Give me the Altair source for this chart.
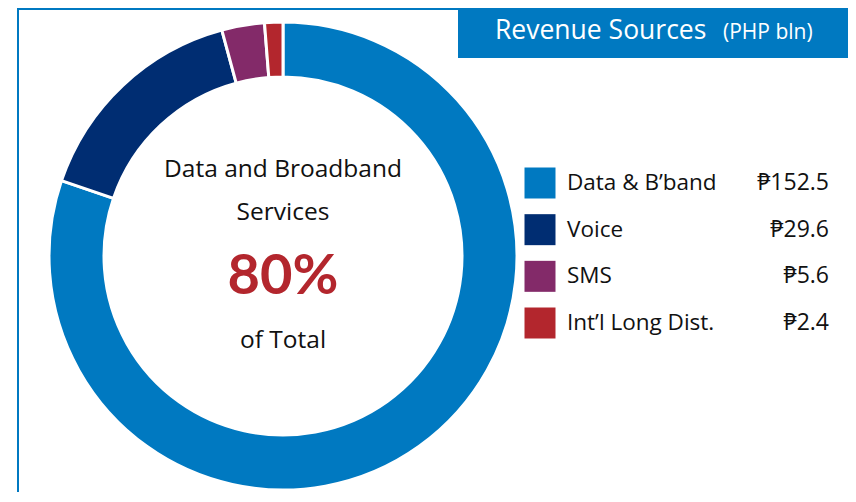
import altair as alt
import pandas as pd

categories = ["Data & B\u2019band", "Voice", "SMS", "Int\u2019l Long Dist."]
values = [152.5, 29.6, 5.6, 2.4]
colors = ["#0079C1", "#002D72", "#832A69", "#B3262D"]
center_lines = ["Data and Broadband", "Services"]
center_pct = "80%"
center_tail = "of Total"
title_main = "Revenue Sources"
title_sub = "(PHP bln)"

FONT = "'Open Sans', 'Noto Sans', 'DejaVu Sans', sans-serif"
BOLD_FONT = "Lato, 'Open Sans', sans-serif"
BLUE = "#0079C1"
INK = "#111111"

df = pd.DataFrame({
    "cat": categories,
    "value": values,
    "order": list(range(len(categories))),
    "label": ["\u20b1" + str(v) for v in values],
})

color = alt.Color("cat:N", scale=alt.Scale(domain=categories, range=colors), legend=None)
one = alt.Data(values=[{}])

arc = alt.Chart(df).mark_arc(radius=234, innerRadius=179, stroke="white", strokeWidth=3).encode(
    theta=alt.Theta("value:Q", stack=True),
    color=color,
    order=alt.Order("order:Q"),
    x=alt.value(275),
    y=alt.value(248),
)

yscale = alt.Scale(type="point", domain=categories, range=[175, 315], padding=0)
ly = alt.Y("cat:N", scale=yscale, axis=None)

squares = alt.Chart(df).mark_square(size=961, opacity=1).encode(
    x=alt.value(532), y=ly, color=color
)
labels = alt.Chart(df).mark_text(align="left", baseline="middle", font=FONT, fontSize=22.5, color=INK).encode(
    x=alt.value(559), y=ly, text="cat:N"
)
vals = alt.Chart(df).mark_text(align="right", baseline="middle", font=FONT, fontSize=23, color=INK).encode(
    x=alt.value(821), y=ly, text="label:N"
)

title_box = alt.Chart(one).mark_rect(color=BLUE).encode(
    x=alt.value(450), x2=alt.value(840), y=alt.value(0), y2=alt.value(50)
)
t_main = alt.Chart(one).mark_text(align="left", baseline="alphabetic", font=FONT, fontSize=26.5, color="white").encode(
    x=alt.value(487), y=alt.value(31), text=alt.value(title_main)
)
t_sub = alt.Chart(one).mark_text(align="left", baseline="alphabetic", font=FONT, fontSize=21, color="white").encode(
    x=alt.value(715), y=alt.value(31), text=alt.value(title_sub)
)

border_top = alt.Chart(one).mark_rule(color=BLUE, strokeWidth=2).encode(
    x=alt.value(9), x2=alt.value(450), y=alt.value(1)
)
border_left = alt.Chart(one).mark_rule(color=BLUE, strokeWidth=2).encode(
    x=alt.value(10), y=alt.value(0), y2=alt.value(486)
)

c1 = alt.Chart(one).mark_text(align="center", baseline="middle", font=FONT, fontSize=24.5, color=INK).encode(
    x=alt.value(275), y=alt.value(162), text=alt.value(center_lines[0])
)
c2 = alt.Chart(one).mark_text(align="center", baseline="middle", font=FONT, fontSize=24.5, color=INK).encode(
    x=alt.value(275), y=alt.value(205), text=alt.value(center_lines[1])
)
c3 = alt.Chart(one).mark_text(align="center", baseline="middle", font=BOLD_FONT, fontSize=56, fontWeight="bold", color="#B3262D").encode(
    x=alt.value(275), y=alt.value(269), text=alt.value(center_pct)
)
c4 = alt.Chart(one).mark_text(align="center", baseline="middle", font=FONT, fontSize=24.5, color=INK).encode(
    x=alt.value(275), y=alt.value(333), text=alt.value(center_tail)
)

chart = alt.layer(
    border_top, border_left, arc, squares, labels, vals, title_box, t_main, t_sub, c1, c2, c3, c4
).properties(
    width=840, height=484, padding=0, autosize=alt.AutoSizeParams(type="none")
).configure_view(stroke=None)

chart.save("out.html", embed_options={"renderer": "svg", "actions": False})
